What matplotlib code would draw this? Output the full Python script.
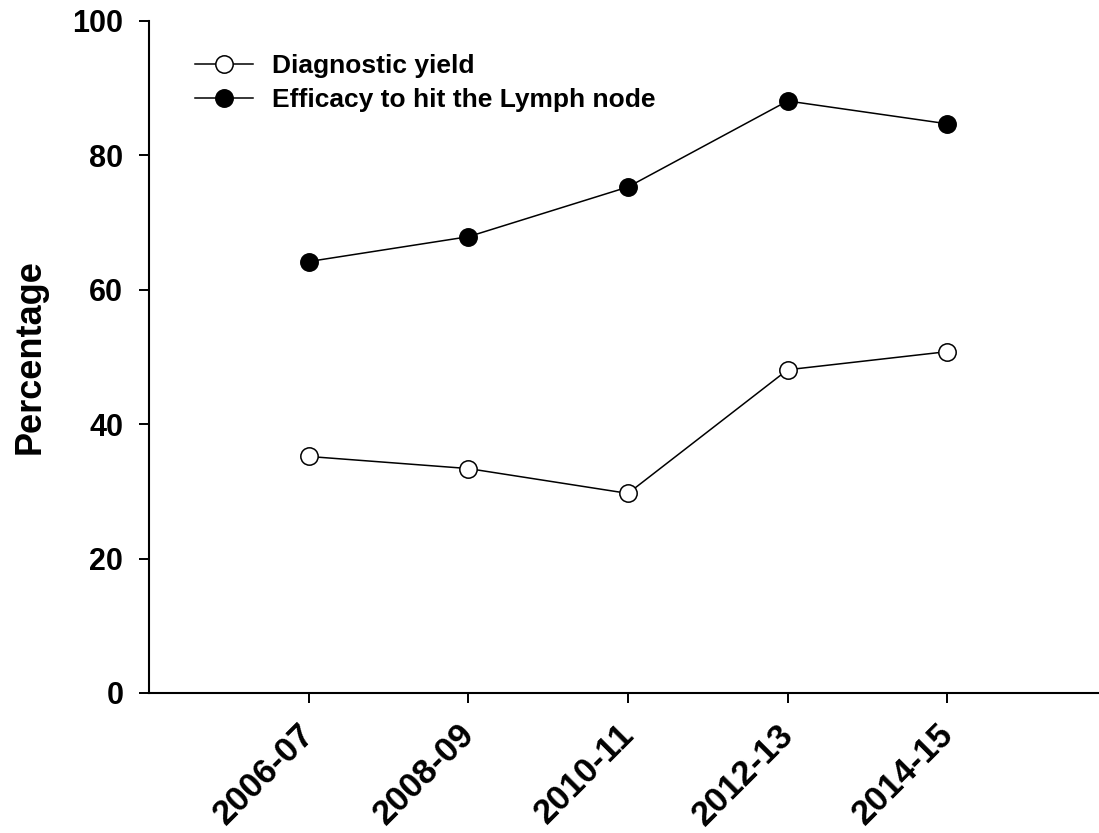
import matplotlib
matplotlib.use("Agg")
import matplotlib.pyplot as plt
import matplotlib.transforms as mtransforms

periods = ["2006-07", "2008-09", "2010-11", "2012-13", "2014-15"]
diagnostic_yield = [35.2, 33.4, 29.7, 48.1, 50.8]
efficacy_lymph = [64.2, 67.9, 75.3, 88.1, 84.7]
y_ticks = [0, 20, 40, 60, 80, 100]

plt.rcParams['font.family'] = ['Liberation Sans', 'DejaVu Sans']
plt.rcParams['font.weight'] = 'bold'

fig = plt.figure(figsize=(10.99, 8.33), dpi=100)
ax = fig.add_axes([149/1099, 140/833, 1 - 149/1099, (693-21)/833])

x = list(range(len(periods)))
ax.plot(x, diagnostic_yield, color='black', lw=1.1, marker='o', ms=12.5,
        mfc='white', mec='black', mew=1.1, label='Diagnostic yield', clip_on=False)
ax.plot(x, efficacy_lymph, color='black', lw=1.1, marker='o', ms=12.5,
        mfc='black', mec='black', mew=1.1, label='Efficacy to hit the Lymph node', clip_on=False)

ax.set_xlim(-1, 4.95)
ax.set_ylim(0, 100)
ax.set_yticks(y_ticks)
ax.set_yticklabels([str(v) for v in y_ticks], fontsize=22, fontweight='bold')
ax.set_xticks(x)
ax.tick_params(axis='both', direction='out', length=7.5, width=1.4)
ax.tick_params(axis='y', pad=11)
ax.tick_params(axis='x', pad=9)
ax.set_xticklabels(periods, fontsize=25, fontweight='bold', rotation=45,
                   ha='right', va='top', rotation_mode='anchor')
offset = mtransforms.ScaledTranslation(-11/100, -2/100, fig.dpi_scale_trans)
for lab in ax.get_xticklabels():
    lab.set_transform(lab.get_transform() + offset)
for s in ['top', 'right']:
    ax.spines[s].set_visible(False)
for s in ['left', 'bottom']:
    ax.spines[s].set_linewidth(1.5)

ax.set_ylabel('Percentage', fontsize=26, fontweight='bold', labelpad=18)

leg = ax.legend(loc='upper left', bbox_to_anchor=(46/950, 0.951), frameon=False,
                prop={'size': 19, 'weight': 'bold'}, handlelength=2.2,
                handletextpad=0.72, labelspacing=0.40, borderaxespad=0,
                borderpad=0)

fig.savefig('out.png', dpi=100)
